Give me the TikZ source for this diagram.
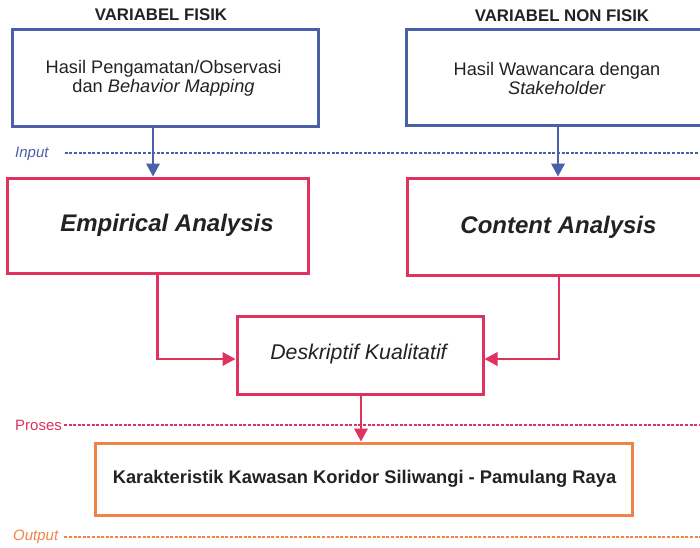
\documentclass[tikz,border=0pt]{standalone}
\usepackage{fontspec}
\setmainfont{Liberation Sans}
\usetikzlibrary{arrows.meta,calc}
\definecolor{varblue}{HTML}{4A61A8}
\definecolor{procred}{HTML}{E0325F}
\definecolor{outorange}{HTML}{EE8447}
\definecolor{ink}{HTML}{222222}
\tikzset{
  frame/.style={draw, line width=3pt, rectangle, inner sep=0pt},
  link/.style={line width=2.1pt, -{Triangle[length=13pt,width=13.5pt]}},
  stage/.style={line width=1.2pt, dash pattern=on 3pt off 1.6pt},
  stagelabel/.style={font=\fontsize{15}{17}\selectfont, anchor=west, inner sep=0pt},
  body/.style={text=ink, align=center, font=\fontsize{18.2}{19}\selectfont},
  heading/.style={text=ink, font=\bfseries\fontsize{16.8}{18}\selectfont},
}
\begin{document}
\begin{tikzpicture}[x=1pt,y=-1pt]
\useasboundingbox (0,0) rectangle (700,547);

% column headings
\node[heading] (hfis) at (161,15) {VARIABEL FISIK};
\node[heading] (hnon) at (562,16) {VARIABEL NON FISIK};

% input boxes
\node[frame, varblue, minimum width=306pt, minimum height=97pt] (obs) at (165,77.5) {};
\node[body] at (163.5,78.5) {Hasil Pengamatan/Observasi\\dan \textit{Behavior Mapping}};
\node[frame, varblue, minimum width=304pt, minimum height=96pt] (wwc) at (558,77) {};
\node[body] at (557,78.5) {Hasil Wawancara dengan\\\textit{Stakeholder}};

% analysis boxes
\node[frame, procred, minimum width=301pt, minimum height=95pt] (emp) at (157.5,225.5) {};
\node[text=ink, font=\bfseries\itshape\fontsize{24}{26}\selectfont] at (167,225) {Empirical Analysis};
\node[frame, procred, minimum width=302pt, minimum height=97pt] (cont) at (558,226.5) {};
\node[text=ink, font=\bfseries\itshape\fontsize{24}{26}\selectfont] at (558.5,227) {Content Analysis};

% synthesis box
\node[frame, procred, minimum width=246pt, minimum height=78pt] (desk) at (360,355) {};
\node[text=ink, font=\itshape\fontsize{21.3}{24}\selectfont] at (358.5,354) {Deskriptif Kualitatif};

% result box
\node[frame, outorange, minimum width=537pt, minimum height=72pt] (hasil) at (363.5,479) {};
\node[text=ink, font=\bfseries\fontsize{18.3}{20}\selectfont] at (364.5,478.5) {Karakteristik Kawasan Koridor Siliwangi - Pamulang Raya};

% stage separators
\node[stagelabel, text=varblue, font=\itshape\fontsize{15}{17}\selectfont] (linput) at (15,154) {Input};
\coordinate (einput) at (700,153);
\draw[stage, varblue] ([xshift=16pt]linput.east |- einput) -- (einput);
\node[stagelabel, text=procred] (lproses) at (15,425) {Proses};
\coordinate (eproses) at (700,425);
\draw[stage, procred] ([xshift=2pt]lproses.east |- eproses) -- (eproses);
\node[stagelabel, text=outorange, font=\itshape\fontsize{15}{17}\selectfont] (loutput) at (13,537) {Output};
\coordinate (eoutput) at (700,537);
\draw[stage, outorange] ([xshift=6pt]loutput.east |- eoutput) -- (eoutput);

% connectors
\draw[link, varblue] ([xshift=-12pt]obs.south) -- ([xshift=-12pt]obs.south |- emp.north);
\draw[link, varblue] (wwc.south) -- (wwc.south |- cont.north);
\draw[link, procred] (emp.south) |- ([yshift=-4pt]desk.west);
\draw[link, procred] ([xshift=1pt]cont.south) |- ([yshift=-4pt]desk.east);
\draw[link, procred] ([xshift=1pt]desk.south) -- ([xshift=1pt]desk.south |- hasil.north);
\end{tikzpicture}
\end{document}
